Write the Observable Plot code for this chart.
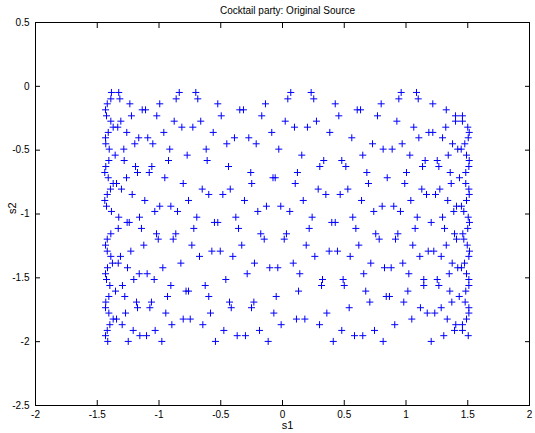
<!DOCTYPE html>
<html>
<head>
<meta charset="utf-8">
<script src="https://cdn.jsdelivr.net/npm/d3@7"></script>
<script src="https://cdn.jsdelivr.net/npm/@observablehq/plot@0.6"></script>
<style>
  html, body { margin: 0; padding: 0; background: #fff; }
  #chart svg { display: block; }
</style>
</head>
<body>
<div id="chart"></div>
<script>
const chartTitle = "Cocktail party: Original Source";
const xLabel = "s1";
const yLabel = "s2";
const xTicks = [-2, -1.5, -1, -0.5, 0, 0.5, 1, 1.5, 2];
const yTicks = [0.5, 0, -0.5, -1, -1.5, -2, -2.5];

// s2 value of each row of samples, top to bottom
const s2Levels = [
  -0.048, -0.098, -0.137, -0.184, -0.231, -0.273, -0.320, -0.361, -0.403, -0.450,
  -0.492, -0.539, -0.581, -0.628, -0.675, -0.716, -0.761, -0.805, -0.847, -0.894,
  -0.939, -0.980, -1.025, -1.066, -1.113, -1.155, -1.197, -1.244, -1.291, -1.332,
  -1.385, -1.421, -1.468, -1.513, -1.560, -1.604, -1.646, -1.690, -1.734, -1.776,
  -1.823, -1.867, -1.912, -1.953, -1.998
];

// s1 values of the samples on each of those rows
const s1Rows = [
  [-1.385, -1.326, -0.836, -0.702, 0.067, 0.232, 0.961, 1.085],
  [-1.390, -1.317, -0.861, -0.686, 0.043, 0.253, 0.942, 1.099],
  [-1.419, -1.236, -0.994, -0.524, -0.138, 0.427, 0.799, 1.217],
  [-1.433, -1.136, -1.109, -0.346, -0.316, 0.605, 0.632, 1.326],
  [-1.425, -1.223, -1.018, -0.496, -0.168, 0.456, 0.769, 1.401, 1.457],
  [-1.390, -1.309, -0.877, -0.662, 0.022, 0.275, 0.926, 1.401, 1.457],
  [-1.371, -1.334, -0.815, -0.726, 0.097, 0.202, 1.063, 1.322, 1.500],
  [-1.411, -1.261, -0.961, -0.561, -0.087, 0.383, 1.185, 1.217, 1.512],
  [-1.433, -1.164, -1.091, -0.389, -0.273, 0.561, 1.104, 1.296, 1.504],
  [-1.431, -1.196, -1.050, -0.451, -0.213, 0.729, 0.969, 1.377, 1.476],
  [-1.403, -1.285, -0.913, -0.618, -0.030, 0.815, 0.888, 1.419, 1.447],
  [-1.355, -0.772, 0.156, 0.650, 1.031, 1.342, 1.490],
  [-1.406, -1.282, -0.923, -0.610, 0.334, 0.480, 1.155, 1.253, 1.512],
  [-1.431, -1.190, -1.058, -0.437, 0.302, 0.513, 1.134, 1.266, 1.509],
  [-1.439, -1.174, -1.079, -0.257, 0.121, 0.683, 1.004, 1.358, 1.484],
  [-1.411, -1.263, -0.953, -0.077, -0.059, 0.848, 1.433],
  [-1.371, -1.344, -0.804, -0.249, 0.103, 0.696, 0.990, 1.366, 1.484],
  [-1.393, -1.304, -0.650, -0.423, 0.289, 0.529, 1.128, 1.274, 1.509],
  [-1.419, -1.217, -0.597, -0.483, 0.351, 0.467, 1.166, 1.239, 1.512],
  [-1.439, -1.115, -0.761, -0.308, 0.168, 0.640, 1.039, 1.338, 1.490],
  [-1.425, -0.994, -0.904, -0.130, -0.014, 0.807, 0.901, 1.409, 1.449],
  [-1.385, -1.034, -0.850, -0.200, 0.059, 0.739, 0.955, 1.387, 1.468],
  [-1.326, -1.158, -0.694, -0.378, 0.240, 0.569, 1.091, 1.296, 1.504],
  [-1.258, -1.241, -0.551, -0.524, 0.399, 0.427, 1.204, 1.514],
  [-1.330, -1.142, -0.718, -0.356, 0.216, 0.594, 1.074, 1.312, 1.500],
  [-1.390, -1.020, -0.864, -0.176, 0.032, 0.755, 0.934, 1.393, 1.460],
  [-1.419, -1.006, -0.885, -0.148, 0.014, 0.783, 0.915, 1.409, 1.468],
  [-1.433, -1.123, -0.734, -0.330, 0.192, 0.618, 1.055, 1.326, 1.496],
  [-1.419, -1.228, -0.572, -0.504, 0.378, 0.445, 1.180, 1.225, 1.514],
  [-1.390, -1.312, -0.672, -0.402, 0.262, 0.548, 1.112, 1.285, 1.509],
  [-1.377, -1.330, -0.823, -0.227, 0.087, 0.715, 0.974, 1.374, 1.474],
  [-1.417, -1.255, -0.969, -0.103, -0.038, 0.826, 0.880, 1.419, 1.449],
  [-1.433, -1.160, -1.096, -0.286, 0.140, 0.658, 1.023, 1.350, 1.490],
  [-1.425, -1.204, -1.039, -0.459, 0.324, 0.491, 1.144, 1.253, 1.509],
  [-1.398, -1.296, -0.904, -0.626, 0.316, 0.500, 1.144, 1.266, 1.509],
  [-1.352, -0.781, -0.761, 0.130, 0.674, 1.015, 1.355, 1.484],
  [-1.406, -1.277, -0.931, -0.597, -0.051, 0.840, 0.866, 1.431],
  [-1.431, -1.182, -1.061, -0.429, -0.232, 0.707, 0.982, 1.371, 1.479],
  [-1.433, -1.174, -1.074, -0.415, -0.251, 0.540, 1.117, 1.285, 1.509],
  [-1.406, -1.271, -0.945, -0.583, -0.070, 0.359, 1.172, 1.233, 1.509],
  [-1.371, -1.344, -0.804, -0.747, 0.113, 0.181, 1.047, 1.334, 1.490],
  [-1.398, -1.298, -0.896, -0.645, -0.011, 0.300, 0.909, 1.403, 1.457],
  [-1.419, -1.209, -1.031, -0.475, -0.186, 0.480, 0.745, 1.393, 1.457],
  [-1.433, -1.155, -1.101, -0.367, -0.300, 0.583, 0.650, 1.306, 1.504],
  [-1.415, -1.249, -0.977, -0.543, -0.116, 0.411, 0.815, 1.204]
];

const samples = s2Levels.flatMap((s2, i) => s1Rows[i].map((s1) => ({s1, s2})));

// Thin "+" marker (two strokes), sized from the dot radius
const plusMarker = {
  draw(context, size) {
    const r = Math.sqrt(size / Math.PI);
    context.moveTo(-r, 0);
    context.lineTo(r, 0);
    context.moveTo(0, -r);
    context.lineTo(0, r);
  }
};

const fmt = (d) => String(d);
const blank = () => "";

const chart = Plot.plot({
  width: 535,
  height: 433,
  marginTop: 22,
  marginBottom: 28,
  marginLeft: 35,
  marginRight: 6,
  style: {
    fontFamily: "'Liberation Sans', Arial, Helvetica, sans-serif",
    fontSize: "10px",
    color: "#000",
    background: "#fff"
  },
  x: {domain: [-2, 2]},
  y: {domain: [-2.5, 0.5]},
  marks: [
    Plot.axisX({ticks: xTicks, anchor: "bottom", tickSize: -5, tickPadding: 10, tickFormat: fmt, label: null}),
    Plot.axisX({ticks: xTicks, anchor: "top", tickSize: -5, tickFormat: blank, label: null}),
    Plot.axisY({ticks: yTicks, anchor: "left", tickSize: -5, tickPadding: 11, tickFormat: fmt, label: null}),
    Plot.axisY({ticks: yTicks, anchor: "right", tickSize: -5, tickFormat: blank, label: null}),
    Plot.frame({stroke: "#000"}),
    Plot.dot(samples, {x: "s1", y: "s2", symbol: plusMarker, r: 3.5, stroke: "#0000ff", strokeWidth: 1, fill: "none"}),
    Plot.text([chartTitle], {text: (d) => d, frameAnchor: "top", dx: 5, dy: -16, fontSize: 10}),
    Plot.text([xLabel], {text: (d) => d, frameAnchor: "bottom", dx: 5, dy: 23, fontSize: 11}),
    Plot.text([yLabel], {text: (d) => d, frameAnchor: "left", dx: -23, rotate: -90, fontSize: 11})
  ]
});

document.getElementById("chart").appendChild(chart);
</script>
</body>
</html>
